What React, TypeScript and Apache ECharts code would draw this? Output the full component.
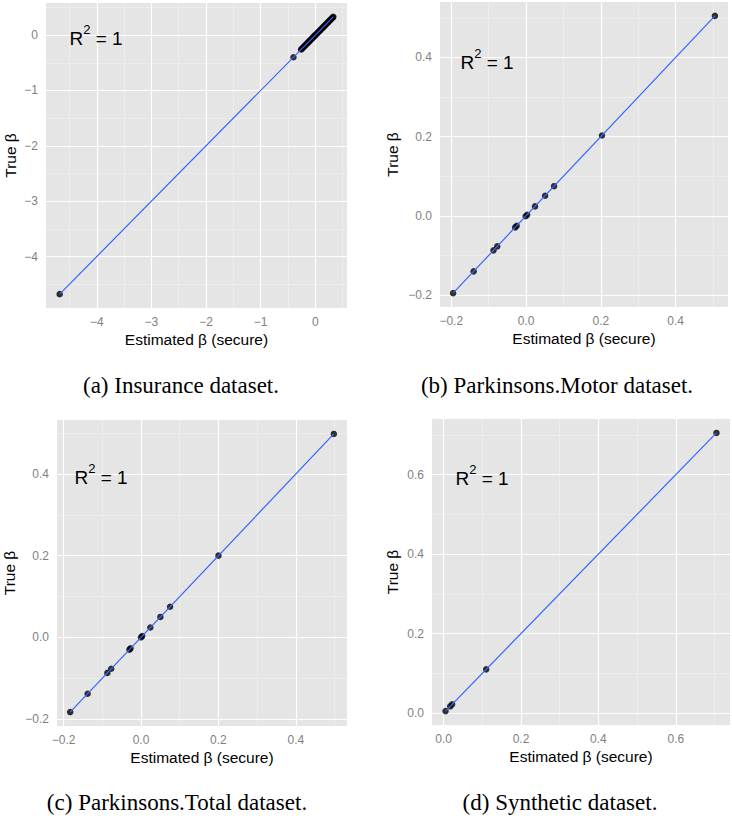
import React, { useEffect, useRef } from "react";
import * as echarts from "echarts";

// ---- data (estimated beta == true beta, R^2 = 1) ----
const betaInsurance = [
  -4.68, -0.4, -0.26, -0.25, -0.23, -0.22, -0.2, -0.19, -0.17, -0.16, -0.14, -0.13,
  -0.11, -0.1, -0.08, -0.07, -0.05, -0.04, -0.02, -0.01, 0.0, 0.02, 0.03, 0.05, 0.06,
  0.08, 0.09, 0.11, 0.12, 0.14, 0.15, 0.17, 0.18, 0.2, 0.21, 0.23, 0.24, 0.26, 0.27,
  0.29, 0.3, 0.32, 0.33,
];
const betaMotor = [-0.195, -0.14, -0.087, -0.077, -0.029, -0.025, -0.001, 0.003, 0.024, 0.051, 0.075, 0.203, 0.505];
const betaTotal = [-0.183, -0.138, -0.087, -0.077, -0.03, -0.027, 0.0, 0.003, 0.024, 0.05, 0.075, 0.2, 0.498];
const betaSynthetic = [0.005, 0.017, 0.022, 0.11, 0.705];

const ticksInsurance = [-4, -3, -2, -1, 0];
const minorInsurance = [-4.5, -3.5, -2.5, -1.5, -0.5, 0.5];
const ticksParkinsons = [-0.2, 0, 0.2, 0.4];
const minorParkinsons = [-0.1, 0.1, 0.3, 0.5];
const ticksSynthetic = [0, 0.2, 0.4, 0.6];
const minorSynthetic = [0.1, 0.3, 0.5, 0.7];

const captions = [
  "(a) Insurance dataset.",
  "(b) Parkinsons.Motor dataset.",
  "(c) Parkinsons.Total dataset.",
  "(d) Synthetic dataset.",
];
const xTitle = "Estimated \u03b2 (secure)";
const yTitle = "True \u03b2";

const SANS = "'Liberation Sans', Arial, Helvetica, sans-serif";
const SERIF = "'Liberation Serif', 'Times New Roman', serif";

// ---- layout ----
const panels = [
  { values: betaInsurance, ticks: ticksInsurance, minor: minorInsurance, dec: 0,
    grid: [46, 3, 301, 305], yGap: 28, r2: [96, 38], cap: [181, 385] },
  { values: betaMotor, ticks: ticksParkinsons, minor: minorParkinsons, dec: 1,
    grid: [440, 2, 288, 305], yGap: 40, r2: [487, 62], cap: [557, 385] },
  { values: betaTotal, ticks: ticksParkinsons, minor: minorParkinsons, dec: 1,
    grid: [57, 420, 290, 306], yGap: 40, r2: [101, 477], cap: [177, 802] },
  { values: betaSynthetic, ticks: ticksSynthetic, minor: minorSynthetic, dec: 1,
    grid: [432, 419, 298, 306], yGap: 32, r2: [482, 478], cap: [560, 802] },
];

function buildOption() {
  const grid: any[] = [];
  const xAxis: any[] = [];
  const yAxis: any[] = [];
  const series: any[] = [];
  const graphic: any[] = [];

  panels.forEach((p, i) => {
    const mn = Math.min(...p.values);
    const mx = Math.max(...p.values);
    const pad = (mx - mn) * 0.05;
    const lo = mn - pad;
    const hi = mx + pad;
    const fmt = (v: number) => v.toFixed(p.dec).replace("-", "\u2212");

    grid.push({
      left: p.grid[0], top: p.grid[1], width: p.grid[2], height: p.grid[3],
      show: true, backgroundColor: "#E5E5E5", borderWidth: 0,
    });

    const axisBase = (name: string, gap: number) => ({
      type: "value",
      gridIndex: i,
      min: lo,
      max: hi,
      name,
      nameLocation: "middle",
      nameGap: gap,
      nameTextStyle: { color: "#000", fontSize: 15.5, fontFamily: SANS },
      axisLine: { show: false },
      axisTick: { show: true, customValues: p.ticks, length: 4, lineStyle: { color: "#7F7F7F", width: 1 } },
      axisLabel: { show: true, customValues: p.ticks, formatter: fmt, color: "#7F7F7F", fontSize: 12, fontFamily: SANS, margin: 8 },
      splitLine: { show: false },
    });
    xAxis.push(axisBase(xTitle, 23));
    yAxis.push(axisBase(yTitle, p.yGap));

    const major = { color: "#FFFFFF", width: 1.2, type: "solid" };
    const minor = { color: "#F2F2F2", width: 0.6, type: "solid" };
    const lines: any[] = [];
    p.minor.forEach((v) => {
      if (v > lo && v < hi) {
        lines.push({ xAxis: v, lineStyle: minor });
        lines.push({ yAxis: v, lineStyle: minor });
      }
    });
    p.ticks.forEach((v) => {
      lines.push({ xAxis: v, lineStyle: major });
      lines.push({ yAxis: v, lineStyle: major });
    });

    series.push({
      type: "line",
      xAxisIndex: i,
      yAxisIndex: i,
      data: [],
      silent: true,
      markLine: {
        silent: true,
        z: 1,
        symbol: ["none", "none"],
        label: { show: false },
        emphasis: { disabled: true },
        animation: false,
        data: lines,
      },
    });
    series.push({
      type: "scatter",
      xAxisIndex: i,
      yAxisIndex: i,
      data: p.values.map((v) => [v, v]),
      symbolSize: 6.5,
      itemStyle: { color: "#000000" },
      z: 2,
      silent: true,
    });
    series.push({
      type: "line",
      xAxisIndex: i,
      yAxisIndex: i,
      data: [[mn, mn], [mx, mx]],
      showSymbol: false,
      symbol: "none",
      lineStyle: { color: "#3366FF", width: 1.2 },
      z: 3,
      silent: true,
    });

    graphic.push({
      type: "text",
      x: p.r2[0],
      y: p.r2[1],
      z: 10,
      style: {
        text: "{r|R}{s|2}{r| = 1}",
        align: "center",
        verticalAlign: "middle",
        rich: {
          r: { fontSize: 19, fontFamily: SANS, fill: "#000" },
          s: { fontSize: 13, fontFamily: SANS, fill: "#000", padding: [0, 0, 17, 0] },
        },
      },
    });
    graphic.push({
      type: "text",
      x: p.cap[0],
      y: p.cap[1],
      style: {
        text: captions[i],
        align: "center",
        verticalAlign: "middle",
        fontSize: 23,
        fontFamily: SERIF,
        fill: "#000",
      },
    });
  });

  return { animation: false, backgroundColor: "#FFFFFF", grid, xAxis, yAxis, series, graphic };
}

export default function App() {
  const ref = useRef<HTMLDivElement>(null);
  useEffect(() => {
    if (!ref.current) return;
    const chart = echarts.init(ref.current, undefined, { renderer: "svg" });
    chart.setOption(buildOption() as any);
    return () => chart.dispose();
  }, []);
  return (
    <div
      ref={ref}
      style={{ position: "absolute", left: 0, top: 0, width: 732, height: 816, background: "#fff" }}
    />
  );
}
